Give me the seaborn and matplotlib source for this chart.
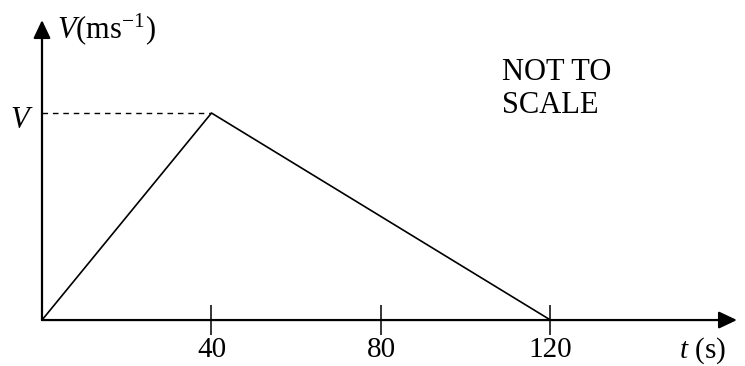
import matplotlib
matplotlib.use("Agg")
import matplotlib.pyplot as plt
import seaborn as sns

# velocity-time graph (V normalised to 1)
t_vals = [0, 40, 120, 160]
v_vals = [0, 1, 0, 0]
tick_vals = [40, 80, 120]
tick_labels = ["40", "80", "120"]
peak_t = 40
peak_v = 1

sns.set_style("white")
plt.rcParams["font.family"] = ["Liberation Serif", "DejaVu Serif"]
plt.rcParams["mathtext.fontset"] = "custom"
plt.rcParams["mathtext.rm"] = "Liberation Serif"
plt.rcParams["mathtext.it"] = "Liberation Serif:italic"
plt.rcParams["text.color"] = "black"
plt.rcParams["xtick.color"] = "black"
plt.rcParams["xtick.labelcolor"] = "black"

fig = plt.figure(figsize=(7.45, 3.66), dpi=100)
ax = fig.add_axes([0, 0, 1, 1])

# main graph line
sns.lineplot(x=t_vals, y=v_vals, ax=ax, color="black", linewidth=1.2)

# dashed guide to the V axis
ax.hlines(peak_v, 0, peak_t, colors="black", linestyles=(0, (4, 3.5)), linewidth=1.0)

ax.set_xlim(-9.91, 165.9)
ax.set_ylim(-0.222, 1.546)

# axes with arrow heads
arrow = dict(arrowstyle="-|>,head_length=0.55,head_width=0.26", mutation_scale=20,
             color="black", lw=1.6, shrinkA=0, shrinkB=0)
ax.annotate("", xy=(164.0, 0), xytext=(0, 0), arrowprops=arrow)
ax.annotate("", xy=(0, 1.449), xytext=(0, 0), arrowprops=arrow)

for s in ax.spines.values():
    s.set_visible(False)
ax.spines["bottom"].set_position(("data", 0))
ax.set_yticks([])
ax.set_xticks(tick_vals, tick_labels)
ax.tick_params(axis="x", direction="inout", length=21, width=1.1, pad=2,
               labelsize=21, color="black", labelcolor="black", bottom=True)

# labels
ax.text(3.54, 1.36, "$V$(ms$^{\\mathrm{-1}}$)", fontsize=22, va="baseline", ha="left")
ax.text(-1.9, 0.928, "$V$", fontsize=22, va="baseline", ha="right")
ax.text(150.3, -0.18, "$t$ (s)", fontsize=21, va="baseline", ha="left")
ax.text(108.6, 1.0, "NOT TO\nSCALE", fontsize=22, va="baseline", ha="left",
        linespacing=1.2)

fig.savefig("out.png", dpi=100)
